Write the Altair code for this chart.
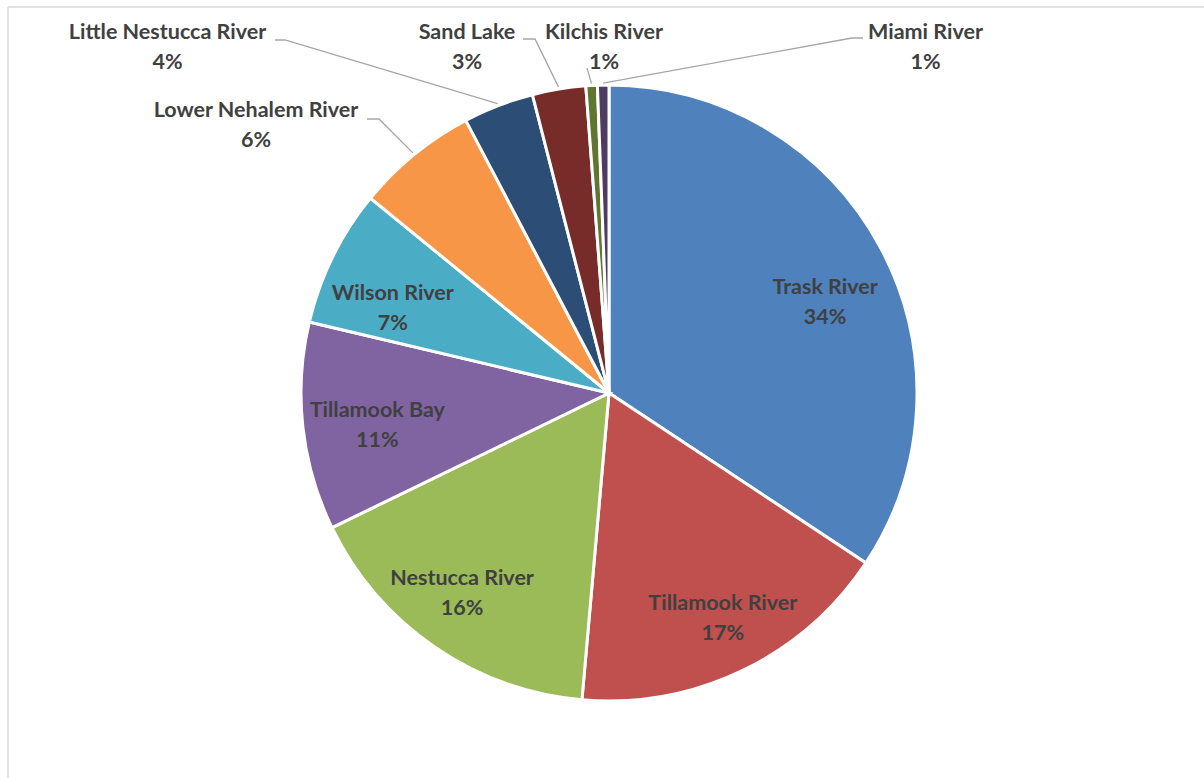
import math
import altair as alt
import pandas as pd

# ---- data ----
names = ["Trask River", "Tillamook River", "Nestucca River", "Tillamook Bay", "Wilson River",
         "Lower Nehalem River", "Little Nestucca River", "Sand Lake", "Kilchis River", "Miami River"]
shares = [34.3, 17.1, 16.4, 10.9, 7.2, 6.4, 3.7, 2.8, 0.6, 0.6]
colors = ["#4F81BD", "#C0504D", "#9BBB59", "#8064A2", "#4BACC6",
          "#F79646", "#2C4D75", "#772C2A", "#5F7530", "#4D3B62"]

# ---- layout ----
W, H = 1204, 778
CX, CY, R = 609, 393, 308
FONT = "Lato"
FONT_SIZE = 21.5
LINE_H = 30
TEXT_COLOR = "#404040"
LEADER_COLOR = "#A6A6A6"

# inside labels: (radius from centre, angle nudge in degrees)
inside_layout = {
    "Trask River": (234, 5.7),
    "Tillamook River": (253, -1.0),
    "Nestucca River": (249, 1.6),
    "Tillamook Bay": (234, -1.8),
    "Wilson River": (232, -5.0),
}
# outside labels: label block centre and leader elbow points
outside_label = {
    "Lower Nehalem River": (256, 126),
    "Little Nestucca River": (167.5, 47.5),
    "Sand Lake": (467, 47.5),
    "Kilchis River": (604, 47.5),
    "Miami River": (925.5, 47.5),
}
leader_elbows = {
    "Lower Nehalem River": [(367, 119), (379, 119)],
    "Little Nestucca River": [(275, 40), (285, 40)],
    "Sand Lake": [(523, 39), (535, 39)],
    "Kilchis River": [(587, 68)],
    "Miami River": [(863, 38), (852, 38)],
}

total = sum(shares)
pie = pd.DataFrame({"name": names, "value": shares, "order": list(range(len(names)))})

# mid angles (clockwise from 12 o'clock)
mids = {}
cum = 0.0
for n, v in zip(names, shares):
    start = cum / total * 360
    cum += v
    end = cum / total * 360
    mids[n] = (start + end) / 2


def polar(angle_deg, r):
    a = math.radians(angle_deg)
    return CX + r * math.sin(a), CY - r * math.cos(a)


label_rows = []
for n, v in zip(names, shares):
    text = f"{n}\n{round(v)}%"
    if n in inside_layout:
        r, nudge = inside_layout[n]
        x, y = polar(mids[n] + nudge, r)
    else:
        x, y = outside_label[n]
    # first line is anchored; shift so the two-line block is centred
    label_rows.append({"name": n, "x": x, "y": y - LINE_H / 2, "label": text})
labels_df = pd.DataFrame(label_rows)

leader_rows = []
for n, pts in leader_elbows.items():
    seq = 0
    for (x, y) in pts:
        leader_rows.append({"name": n, "seq": seq, "x": x, "y": y})
        seq += 1
    ex, ey = polar(mids[n], R + 2)
    leader_rows.append({"name": n, "seq": seq, "x": ex, "y": ey})
leaders_df = pd.DataFrame(leader_rows)

# ---- chart ----
one = pd.DataFrame({"k": [0]})
border_left = alt.Chart(one).mark_rule(color="#D9D9D9", strokeWidth=1.5).encode(
    x=alt.value(8), y=alt.value(7), y2=alt.value(H))
border_top = alt.Chart(one).mark_rule(color="#D9D9D9", strokeWidth=1.5).encode(
    x=alt.value(8), x2=alt.value(W), y=alt.value(7))

arcs = alt.Chart(pie).mark_arc(outerRadius=R, stroke="white", strokeWidth=3).encode(
    theta=alt.Theta("value:Q", stack=True),
    color=alt.Color("name:N", scale=alt.Scale(domain=names, range=colors), legend=None),
    order=alt.Order("order:Q"),
    x=alt.value(CX),
    y=alt.value(CY),
)

leaders = alt.Chart(leaders_df).mark_line(color=LEADER_COLOR, strokeWidth=1.3).encode(
    x=alt.X("x:Q", scale=None, axis=None),
    y=alt.Y("y:Q", scale=None, axis=None),
    detail="name:N",
    order="seq:Q",
)

labels = alt.Chart(labels_df).mark_text(
    font=FONT, fontWeight="bold", fontSize=FONT_SIZE, color=TEXT_COLOR,
    lineBreak="\n", lineHeight=LINE_H, align="center", baseline="middle",
).encode(
    x=alt.X("x:Q", scale=None, axis=None),
    y=alt.Y("y:Q", scale=None, axis=None),
    text="label:N",
)

chart = alt.layer(border_left, border_top, arcs, leaders, labels).properties(
    width=W, height=H, padding=0, autosize="none",
    background="white",
).configure_view(stroke=None)

chart.save("out.html", embed_options={"renderer": "svg", "actions": False})
